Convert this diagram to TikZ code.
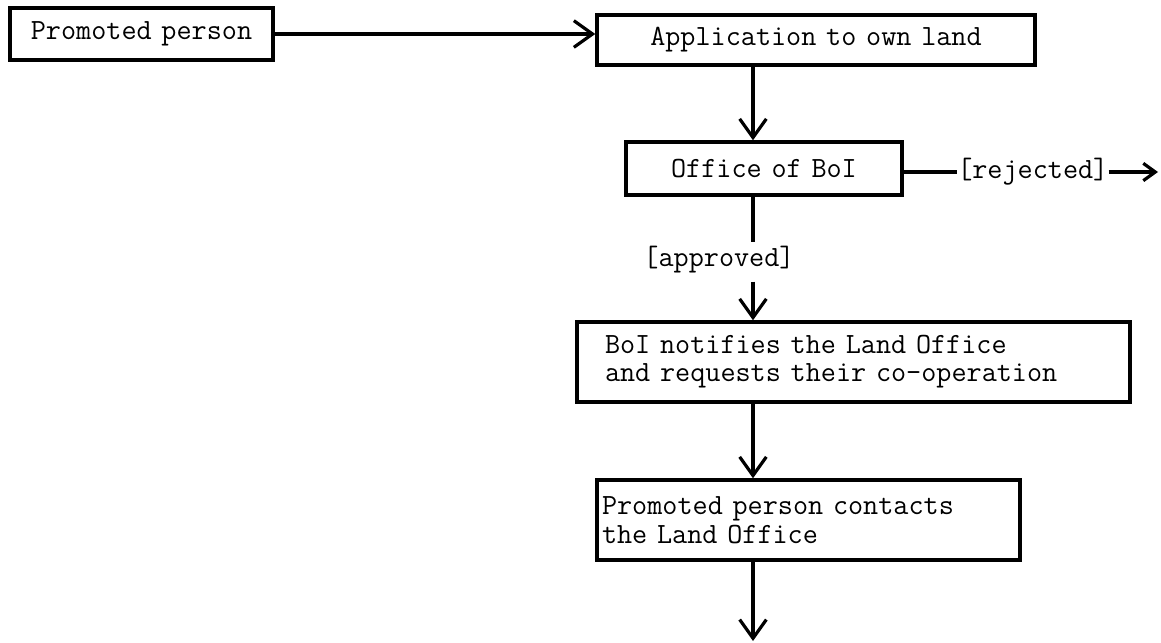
\documentclass[tikz,border=0pt]{standalone}
\usepackage{fontspec}
\usetikzlibrary{arrows.meta}
\newdimen\pxu
\pxu=0.75pt
\tikzset{
  boxnode/.style={draw, line width=2.6pt, rectangle, inner ysep=0pt, align=left,
    font=\ttfamily\fontsize{22pt}{21pt}\selectfont},
  lbl/.style={inner sep=0pt, font=\ttfamily\fontsize{22pt}{21pt}\selectfont},
  conn/.style={line width=2.4pt},
  arr/.style={line width=2.4pt, -{Straight Barb[length=14pt,width=20pt,line width=2.4pt]}},
  sarr/.style={line width=2.4pt, -{Straight Barb[length=9pt,width=13pt,line width=2.4pt]}}
}
\begin{document}
\begin{tikzpicture}[x=0.75pt,y=-0.75pt]
\useasboundingbox (0,0) rectangle (1161,643);
\coordinate (spine) at (753,0);
\node[boxnode, minimum width=263\pxu, minimum height=52\pxu, inner xsep=0pt, text width=263\pxu, align=center] (p) at (141.5,34) {Promoted person};
\node[boxnode, minimum width=438\pxu, minimum height=50\pxu, inner xsep=0pt, text width=438\pxu, align=center] (a) at (816,40) {Application to own land};
\node[boxnode, minimum width=276\pxu, minimum height=53\pxu, inner xsep=0pt, text width=276\pxu, align=center] (o) at (764,168.5) {Office of BoI};
\node[lbl, anchor=west] (rejtxt) at (957,172) {[rejected]};
\coordinate (rejend) at (1158,172);
\node[lbl] (apptxt) at (719,260) {[approved]};
\node[boxnode, minimum height=80\pxu, inner xsep=28\pxu, text width=497\pxu] (b) at (853.5,362) {BoI notifies the Land Office\\and requests their co-operation};
\node[boxnode, minimum height=80\pxu, inner xsep=5\pxu, text width=413\pxu] (c) at (808.5,520) {Promoted person contacts\\[1pt]the Land Office};
\coordinate (end) at (753,641);

\draw[arr] (p.east) -- (p.east -| a.west);
\draw[arr] (a.south -| spine) -- (o.north -| spine);
\draw[conn] (o.east |- rejtxt.west) -- (rejtxt.west);
\draw[sarr] (rejtxt.east) -- (rejend);
\draw[conn] (o.south -| spine) -- ([yshift=4\pxu]apptxt.north -| spine);
\draw[arr] ([yshift=-8\pxu]apptxt.south -| spine) -- (b.north -| spine);
\draw[arr] (b.south -| spine) -- (c.north -| spine);
\draw[arr] (c.south -| spine) -- (end);
\end{tikzpicture}
\end{document}
